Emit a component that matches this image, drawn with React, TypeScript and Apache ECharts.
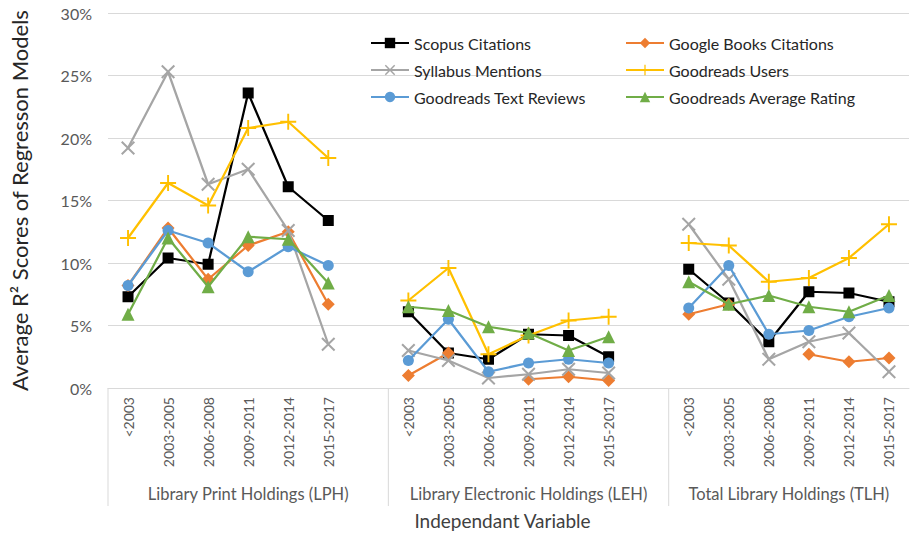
import React, { useEffect, useRef } from "react";
import * as echarts from "echarts";

const tickLabels = ["<2003", "2003-2005", "2006-2008", "2009-2011", "2012-2014", "2015-2017"];
const groupNames = [
  "Library Print Holdings (LPH)",
  "Library Electronic Holdings (LEH)",
  "Total Library Holdings (TLH)",
];
const seriesNames = [
  "Scopus Citations",
  "Google Books Citations",
  "Syllabus Mentions",
  "Goodreads Users",
  "Goodreads Text Reviews",
  "Goodreads Average Rating",
];

// values in % : [LPH, LEH, TLH]
const scopusLPH = [7.3, 10.4, 9.9, 23.6, 16.1, 13.4];
const scopusLEH = [6.1, 2.8, 2.3, 4.3, 4.2, 2.5];
const scopusTLH = [9.5, 6.8, 3.7, 7.7, 7.6, 6.9];

const googleLPH = [8.2, 12.8, 8.7, 11.4, 12.5, 6.7];
const googleLEH = [1.0, 2.8, null, 0.7, 0.9, 0.6];
const googleTLH = [5.9, 6.7, null, 2.7, 2.1, 2.4];

const syllabusLPH = [19.2, 25.3, 16.3, 17.5, 12.6, 3.5];
const syllabusLEH = [3.0, 2.2, 0.8, 1.1, 1.5, 1.2];
const syllabusTLH = [13.1, 8.7, 2.3, 3.7, 4.4, 1.3];

const usersLPH = [12.0, 16.4, 14.6, 20.8, 21.3, 18.4];
const usersLEH = [7.0, 9.6, 2.7, 4.2, 5.4, 5.7];
const usersTLH = [11.6, 11.4, 8.5, 8.8, 10.4, 13.1];

const reviewsLPH = [8.2, 12.6, 11.6, 9.3, 11.3, 9.8];
const reviewsLEH = [2.2, 5.5, 1.3, 2.0, 2.3, 2.0];
const reviewsTLH = [6.4, 9.8, 4.3, 4.6, 5.7, 6.4];

const ratingLPH = [5.9, 12.0, 8.1, 12.1, 11.9, 8.4];
const ratingLEH = [6.5, 6.2, 4.9, 4.4, 3.0, 4.1];
const ratingTLH = [8.5, 6.7, 7.4, 6.5, 6.1, 7.4];

const yTicks = [0, 5, 10, 15, 20, 25, 30];

const FONT = "Lato";
const X_PATH =
  "path://M0,0.1 L0.1,0 L0.5,0.4 L0.9,0 L1,0.1 L0.6,0.5 L1,0.9 L0.9,1 L0.5,0.6 L0.1,1 L0,0.9 L0.4,0.5 Z";
const PLUS_PATH =
  "path://M0.44,0 L0.56,0 L0.56,0.44 L1,0.44 L1,0.56 L0.56,0.56 L0.56,1 L0.44,1 L0.44,0.56 L0,0.56 L0,0.44 L0.44,0.44 Z";

export default function App() {
  const ref = useRef<HTMLDivElement>(null);

  useEffect(() => {
    if (!ref.current) return;
    const chart = echarts.init(ref.current, null, { renderer: "svg" });

    // 20 slots: 6 LPH + gap + 6 LEH + gap + 6 TLH
    const categories: string[] = [];
    groupNames.forEach((g, gi) => {
      tickLabels.forEach((t) => categories.push(g + "|" + t));
      if (gi < groupNames.length - 1) categories.push("gap" + gi);
    });
    const join = (a: (number | null)[], b: (number | null)[], c: (number | null)[]) => [
      ...a,
      null,
      ...b,
      null,
      ...c,
    ];

    const defs = [
      { data: join(scopusLPH, scopusLEH, scopusTLH), color: "#000000", symbol: "rect", size: 11 },
      { data: join(googleLPH, googleLEH, googleTLH), color: "#ED7D31", symbol: "diamond", size: 13 },
      { data: join(syllabusLPH, syllabusLEH, syllabusTLH), color: "#A5A5A5", symbol: X_PATH, size: 14 },
      { data: join(usersLPH, usersLEH, usersTLH), color: "#FFC000", symbol: PLUS_PATH, size: 16 },
      { data: join(reviewsLPH, reviewsLEH, reviewsTLH), color: "#5B9BD5", symbol: "circle", size: 11 },
      { data: join(ratingLPH, ratingLEH, ratingTLH), color: "#70AD47", symbol: "triangle", size: 13 },
    ];

    const series = defs.map((d, i) => ({
      name: seriesNames[i],
      type: "line",
      data: d.data,
      symbol: d.symbol,
      symbolSize: d.size,
      showSymbol: true,
      connectNulls: false,
      lineStyle: { color: d.color, width: 2.25 },
      itemStyle: { color: d.color, borderWidth: 0 },
      z: 2 + i,
    }));

    const legendCommon = {
      orient: "vertical",
      top: 35,
      padding: 0,
      itemWidth: 38,
      itemHeight: 13,
      itemGap: 11,
      textStyle: { fontFamily: FONT, fontSize: 16, color: "#262626" },
    };

    chart.setOption({
      animation: false,
      textStyle: { fontFamily: FONT },
      grid: { left: 103, right: 1, top: 13, bottom: 145, containLabel: false },
      legend: [
        { ...legendCommon, left: 370, data: [seriesNames[0], seriesNames[2], seriesNames[4]] },
        { ...legendCommon, left: 625, data: [seriesNames[1], seriesNames[3], seriesNames[5]] },
      ],
      xAxis: {
        type: "category",
        data: categories,
        boundaryGap: true,
        axisLine: { show: true, lineStyle: { color: "#D9D9D9", width: 1 } },
        axisTick: { show: false },
        axisLabel: {
          interval: 0,
          rotate: 90,
          margin: 9,
          fontFamily: FONT,
          fontSize: 14,
          color: "#595959",
          formatter: (v: string) => (v.startsWith("gap") ? "" : v.split("|")[1]),
        },
      },
      yAxis: {
        type: "value",
        min: yTicks[0],
        max: yTicks[yTicks.length - 1],
        interval: 5,
        axisLine: { show: false },
        axisTick: { show: false },
        splitLine: { lineStyle: { color: "#D9D9D9", width: 1 } },
        axisLabel: {
          formatter: "{value}%",
          fontFamily: FONT,
          fontSize: 16,
          color: "#595959",
          margin: 16,
        },
        name: "Average R² Scores of Regresson Models",
        nameLocation: "middle",
        nameRotate: 90,
        nameGap: 78,
        nameTextStyle: { fontFamily: FONT, fontSize: 22, color: "#262626" },
      },
      series,
    });

    // group separators, group labels and the axis title, positioned from the axis scale
    const px = (i: number) => chart.convertToPixel({ xAxisIndex: 0 }, i) as number;
    const y0 = chart.convertToPixel({ yAxisIndex: 0 }, 0) as number;
    const half = (px(1) - px(0)) / 2;
    const n = categories.length;
    const edges = [px(0) - half, (px(6) + px(7)) / 2, (px(13) + px(14)) / 2, px(n - 1) + half];
    const graphics: any[] = [];
    [edges[0], edges[1], edges[2]].forEach((x) => {
      graphics.push({
        type: "line",
        shape: { x1: x, y1: y0, x2: x, y2: y0 + 118 },
        style: { stroke: "#D9D9D9", lineWidth: 1 },
        silent: true,
      });
    });
    groupNames.forEach((g, gi) => {
      graphics.push({
        type: "text",
        x: (edges[gi] + edges[gi + 1]) / 2,
        y: y0 + 106,
        style: {
          text: g,
          fontFamily: FONT,
          fontSize: 16.5,
          fill: "#595959",
          align: "center",
          verticalAlign: "middle",
        },
        silent: true,
      });
    });
    graphics.push({
      type: "text",
      x: (edges[0] + edges[3]) / 2 - 6,
      y: y0 + 132,
      style: {
        text: "Independant Variable",
        fontFamily: FONT,
        fontSize: 19,
        fill: "#404040",
        align: "center",
        verticalAlign: "middle",
      },
      silent: true,
    });
    chart.setOption({ graphic: graphics });

    return () => chart.dispose();
  }, []);

  return (
    <div
      ref={ref}
      style={{ position: "fixed", left: 0, top: 0, width: 910, height: 533, background: "#fff" }}
    />
  );
}
